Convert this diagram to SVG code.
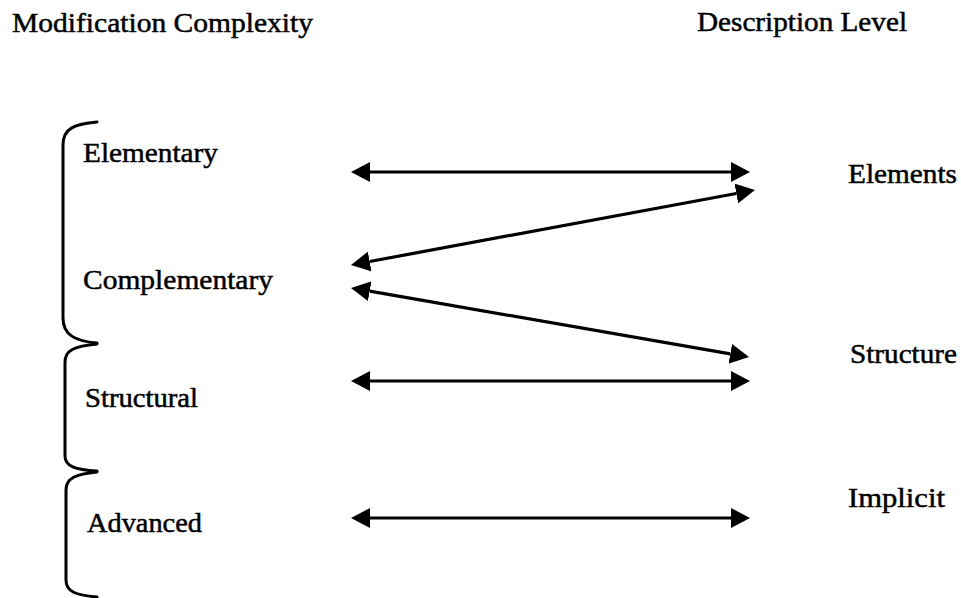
<svg xmlns="http://www.w3.org/2000/svg" width="961" height="598" viewBox="0 0 961 598">
<defs>
<style>
text{font-family:"Liberation Serif","Times New Roman",serif;font-size:28px;fill:#000;stroke:#000;stroke-width:0.5}
.brace{fill:none;stroke:#000;stroke-width:3;stroke-linecap:round;stroke-linejoin:round}
.conn{fill:none;stroke:#000;stroke-width:3.2;marker-start:url(#ah);marker-end:url(#ah)}
</style>
<marker id="ah" viewBox="0 -10 19 20" refX="0" refY="0" markerWidth="19" markerHeight="20" markerUnits="userSpaceOnUse" orient="auto-start-reverse">
<path d="M0,-10 L19,0 L0,10 z" fill="#000"/>
</marker>
</defs>
<rect width="961" height="598" fill="#fff"/>
<g id="title-left"><text x="12" y="32" textLength="301" lengthAdjust="spacingAndGlyphs">Modification Complexity</text></g>
<g id="title-right"><text x="697" y="31" textLength="210" lengthAdjust="spacingAndGlyphs">Description Level</text></g>
<g id="braces">
<path class="brace" d="M97,122 C75,124 63,128 63,145 L63,318 C63,335 75,341 97,343"/>
<path class="brace" d="M97,344 C75,346 65,350 65,362 L65,456 C65,466 75,470 97,471"/>
<path class="brace" d="M97,472 C76,474 66,478 66,490 L66,580 C66,592 76,595 97,597"/>
</g>
<g id="elementary"><text x="83" y="162" textLength="135" lengthAdjust="spacingAndGlyphs">Elementary</text></g>
<g id="complementary"><text x="83" y="289" textLength="190" lengthAdjust="spacingAndGlyphs">Complementary</text></g>
<g id="structural"><text x="85" y="407" textLength="113" lengthAdjust="spacingAndGlyphs">Structural</text></g>
<g id="advanced"><text x="87" y="532" textLength="115" lengthAdjust="spacingAndGlyphs">Advanced</text></g>
<g id="elements"><text x="848" y="183" textLength="109" lengthAdjust="spacingAndGlyphs">Elements</text></g>
<g id="structure"><text x="850" y="363" textLength="107" lengthAdjust="spacingAndGlyphs">Structure</text></g>
<g id="implicit"><text x="848" y="507" textLength="97" lengthAdjust="spacingAndGlyphs">Implicit</text></g>
<g id="connectors">
<line class="conn" x1="370" y1="172" x2="731" y2="172"/>
<line class="conn" x1="369.7" y1="261.5" x2="736.3" y2="193.5"/>
<line class="conn" x1="369.7" y1="291.2" x2="730.3" y2="353.8"/>
<line class="conn" x1="370" y1="381" x2="731" y2="381"/>
<line class="conn" x1="370" y1="518" x2="731" y2="518"/>
</g>
</svg>
